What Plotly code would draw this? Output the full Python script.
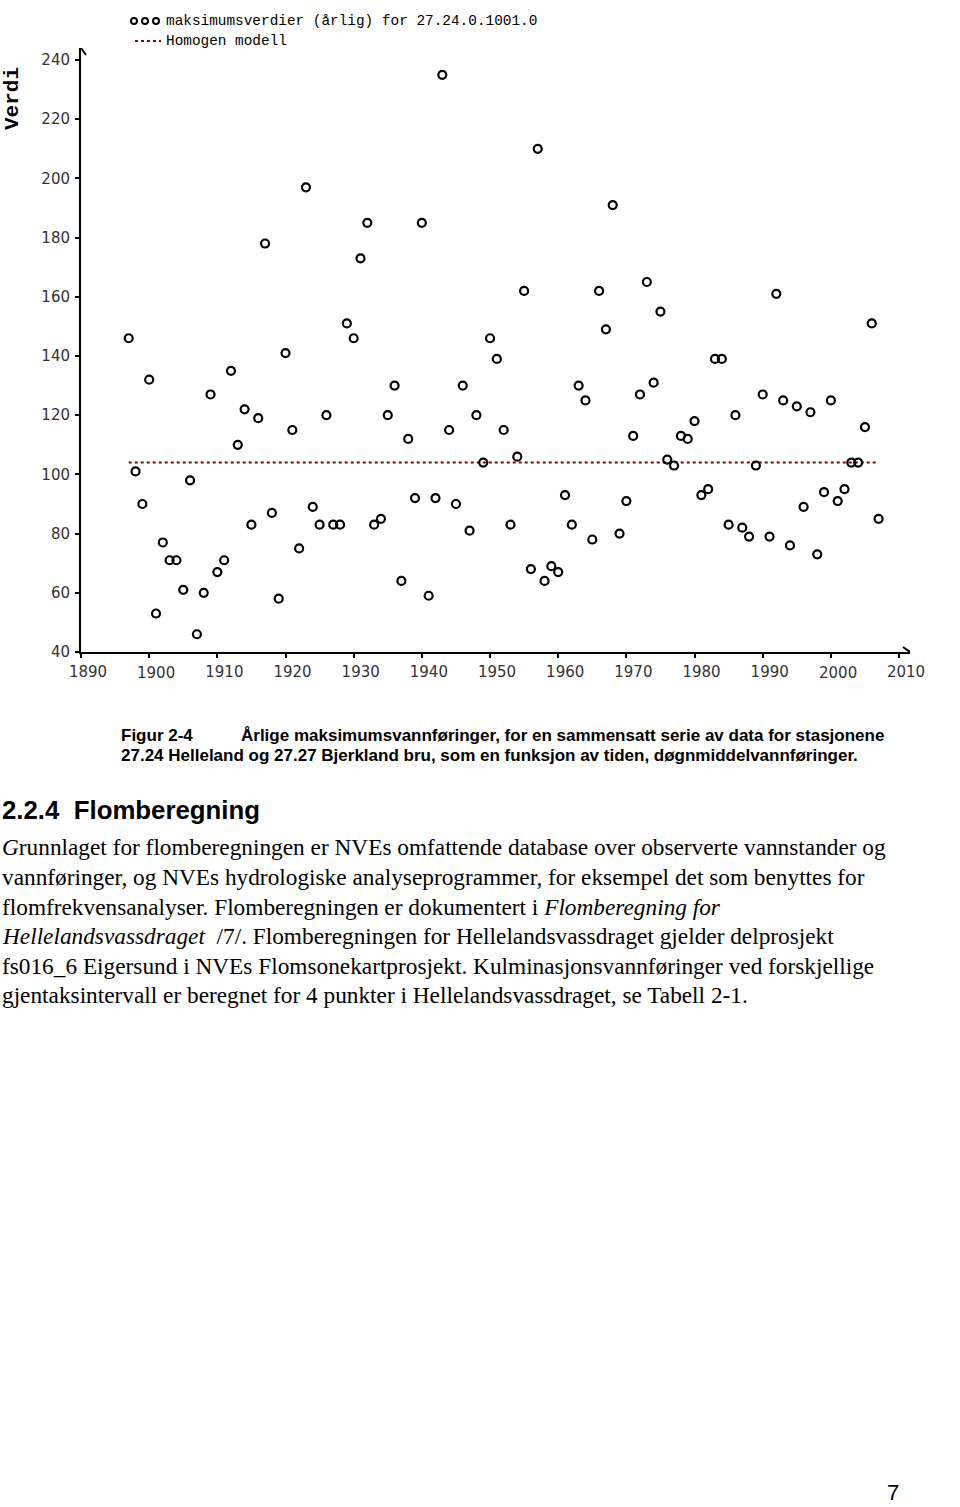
import plotly.graph_objects as go

years = list(range(1897, 2008))
values = [146, 101, 90, 132, 53, 77, 71, 71, 61, 98,
          46, 60, 127, 67, 71, 135, 110, 122, 83, 119,
          178, 87, 58, 141, 115, 75, 197, 89, 83, 120,
          83, 83, 151, 146, 173, 185, 83, 85, 120, 130,
          64, 112, 92, 185, 59, 92, 235, 115, 90, 130,
          81, 120, 104, 146, 139, 115, 83, 106, 162, 68,
          210, 64, 69, 67, 93, 83, 130, 125, 78, 162,
          149, 191, 80, 91, 113, 127, 165, 131, 155, 105,
          103, 113, 112, 118, 93, 95, 139, 139, 83, 120,
          82, 79, 103, 127, 79, 161, 125, 76, 123, 89,
          121, 73, 94, 125, 91, 95, 104, 104, 116, 151, 85]
model_level = 104
x_ticks = list(range(1890, 2011, 10))
y_ticks = list(range(40, 241, 20))
legend_series = "maksimumsverdier (årlig) for 27.24.0.1001.0"
legend_model = "Homogen modell"

W, H = 960, 1507
def py(p):
    return 1 - p / H
def px(p):
    return p / W

x0_px, x1_px = 81, 910
y0_px, y1_px = 652, 48
ppy = 6.817
ppv = 2.96

fig = go.Figure()
fig.add_trace(go.Scatter(
    x=[years[0], years[-1]], y=[model_level, model_level], mode="lines",
    line=dict(color="#8b0000", width=2, dash="dot"), hoverinfo="skip"))
fig.add_trace(go.Scatter(
    x=years, y=values, mode="markers",
    marker=dict(symbol="circle-open", size=8, color="black", line=dict(width=2.2, color="black"))))

tick_font = dict(family="DejaVu Sans", size=15, color="#333333")
ticktext = ["" if t in (1900, 2000) else str(t) for t in x_ticks]

fig.update_layout(
    template="none",
    width=W, height=H, margin=dict(l=0, r=0, t=0, b=0, pad=0, autoexpand=False),
    paper_bgcolor="white", plot_bgcolor="white", showlegend=False,
    xaxis=dict(domain=[px(x0_px), px(x1_px)], range=[1890, 1890 + (x1_px - x0_px) / ppy],
               tickvals=x_ticks, ticktext=ticktext, ticks="outside", ticklen=4, tickwidth=2,
               tickcolor="black", showline=True, linecolor="black", linewidth=2,
               showgrid=False, zeroline=False, tickfont=tick_font, ticklabelshift=7,
               ticklabelstandoff=1, automargin=False),
    yaxis=dict(domain=[py(y0_px), py(y1_px)], range=[40, 40 + (y0_px - y1_px) / ppv],
               tickvals=y_ticks, ticks="outside", ticklen=4, tickwidth=2, tickcolor="black",
               showline=True, linecolor="black", linewidth=2, showgrid=False, zeroline=False,
               tickfont=tick_font, ticklabelstandoff=2, automargin=False),
)

xmax = 1890 + (x1_px - x0_px) / ppy
ymax = 40 + (y0_px - y1_px) / ppv
shapes = [
    dict(type="path", xref="x", yref="y", xsizemode="pixel", ysizemode="pixel",
         xanchor=xmax, yanchor=40, path="M-7,-5 L0,0 L-7,5",
         line=dict(color="black", width=2)),
    dict(type="path", xref="x", yref="y", xsizemode="pixel", ysizemode="pixel",
         xanchor=1890, yanchor=ymax, path="M-5,-7 L0,0 L5,-7",
         line=dict(color="black", width=2)),
    dict(type="line", xref="x", yref="y", ysizemode="pixel", yanchor=40,
         x0=2000, x1=2000, y0=0, y1=-9, line=dict(color="black", width=3)),
    dict(type="line", xref="paper", yref="paper", x0=px(135), x1=px(161), y0=py(41), y1=py(41),
         line=dict(color="#8b0000", width=2, dash="dot")),
]
for cx in (134, 145, 156):
    shapes.append(dict(type="circle", xref="paper", yref="paper",
                       x0=px(cx - 3), x1=px(cx + 3), y0=py(21 + 3), y1=py(21 - 3),
                       line=dict(color="black", width=2)))
fig.update_layout(shapes=shapes)

ann = []
for t in (1900, 2000):
    ann.append(dict(x=t, y=40, xref="x", yref="y", text=str(t), showarrow=False,
                    xanchor="center", yanchor="top", xshift=7, yshift=-10, font=tick_font))
mono = "Liberation Mono"
ann.append(dict(x=px(164), y=py(21), xref="paper", yref="paper", text=legend_series,
                showarrow=False, xanchor="left", yanchor="middle",
                font=dict(family=mono, size=14.4, color="black")))
ann.append(dict(x=px(164), y=py(41), xref="paper", yref="paper", text=legend_model,
                showarrow=False, xanchor="left", yanchor="middle",
                font=dict(family=mono, size=14.4, color="black")))
ann.append(dict(x=px(12), y=py(99), xref="paper", yref="paper", text="<b>Verdi</b>",
                showarrow=False, textangle=-90, xanchor="center", yanchor="middle",
                font=dict(family=mono, size=21, color="black")))

cap_font = dict(family="Liberation Sans", size=17, color="black")
ann.append(dict(x=px(119), y=py(735), xref="paper", yref="paper", text="<b>Figur 2-4</b>",
                showarrow=False, xanchor="left", yanchor="middle", font=cap_font))
ann.append(dict(x=px(239), y=py(735), xref="paper", yref="paper",
                text="<b>Årlige maksimumsvannføringer, for en sammensatt serie av data for stasjonene</b>",
                showarrow=False, xanchor="left", yanchor="middle", font=cap_font))
ann.append(dict(x=px(119), y=py(755), xref="paper", yref="paper",
                text="<b>27.24 Helleland og 27.27 Bjerkland bru, som en funksjon av tiden, døgnmiddelvannføringer.</b>",
                showarrow=False, xanchor="left", yanchor="middle", font=cap_font))
ann.append(dict(x=0, y=py(810), xref="paper", yref="paper", text="<b>2.2.4  Flomberegning</b>",
                showarrow=False, xanchor="left", yanchor="middle",
                font=dict(family="Liberation Sans", size=25.8, color="black")))

body = [
    "<i>G</i>runnlaget for flomberegningen er NVEs omfattende database over observerte vannstander og",
    "vannføringer, og NVEs hydrologiske analyseprogrammer, for eksempel det som benyttes for",
    "flomfrekvensanalyser. Flomberegningen er dokumentert i <i>Flomberegning for</i>",
    "<i>Hellelandsvassdraget</i>  /7/. Flomberegningen for Hellelandsvassdraget gjelder delprosjekt",
    "fs016_6 Eigersund i NVEs Flomsonekartprosjekt. Kulminasjonsvannføringer ved forskjellige",
    "gjentaksintervall er beregnet for 4 punkter i Hellelandsvassdraget, se Tabell 2-1.",
]
body_y = [847, 877, 907, 936, 966, 995]
for line, yy in zip(body, body_y):
    ann.append(dict(x=0, y=py(yy), xref="paper", yref="paper", text=line,
                    showarrow=False, xanchor="left", yanchor="middle",
                    font=dict(family="Liberation Serif", size=23.3, color="black")))
ann.append(dict(x=px(893), y=0, xref="paper", yref="paper", text="7",
                showarrow=False, xanchor="center", yanchor="bottom",
                font=dict(family="Liberation Sans", size=22, color="black")))
fig.update_layout(annotations=ann)

fig.write_html("out.html")
